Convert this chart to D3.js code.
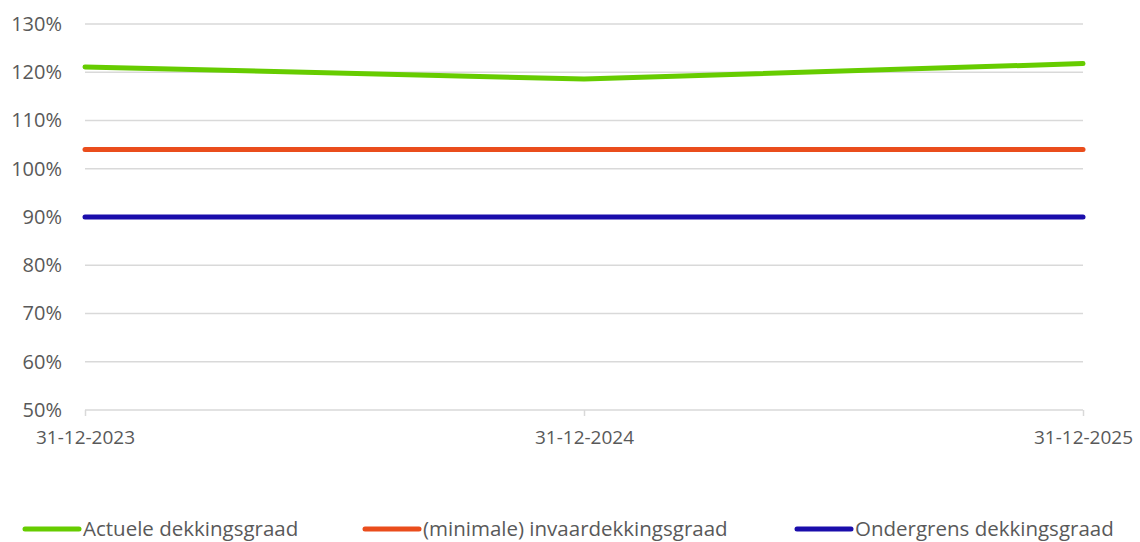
<!DOCTYPE html>
<html>
<head>
<meta charset="utf-8">
<script src="https://cdn.jsdelivr.net/npm/d3@7"></script>
<style>
  html, body { margin: 0; padding: 0; background: #fff; }
  svg { display: block; }
  svg text { font-family: "Open Sans", "Noto Sans", sans-serif; }
</style>
</head>
<body>
<svg id="chart" width="1140" height="542"></svg>
<script>
// Dates on the x axis
const dates = ["31-12-2023", "31-12-2024", "31-12-2025"];
// Coverage ratios in percent
const actueel = [121.1, 118.6, 121.8];
const invaar = [104, 104, 104];
const ondergrens = [90, 90, 90];
// Y axis ticks
const yTicks = [50, 60, 70, 80, 90, 100, 110, 120, 130];

const seriesNames = ["Actuele dekkingsgraad", "(minimale) invaardekkingsgraad", "Ondergrens dekkingsgraad"];
const seriesColors = ["#66cc00", "#ea4d1c", "#1a0dab"];
const seriesData = [actueel, invaar, ondergrens];

const FONT = '"Open Sans", "Noto Sans", sans-serif';
const svg = d3.select("#chart");
const margin = { left: 85, right: 57, top: 24, bottom: 132 };
const W = 1140, H = 542;

const x = d3.scalePoint().domain(dates).range([margin.left, W - margin.right]);
const y = d3.scaleLinear().domain([50, 130]).range([H - margin.bottom, margin.top]);

// Horizontal gridlines
svg.append("g")
  .selectAll("line")
  .data(yTicks.filter(d => d !== 50))
  .join("line")
  .attr("x1", margin.left).attr("x2", W - margin.right)
  .attr("y1", d => y(d)).attr("y2", d => y(d))
  .attr("stroke", "#d9d9d9").attr("stroke-width", 1.5);

// Y axis labels
const yAxis = d3.axisLeft(y).tickValues(yTicks).tickFormat(d => d + "%").tickSize(0).tickPadding(23);
const gy = svg.append("g").attr("transform", `translate(${margin.left},0)`).call(yAxis)
  .attr("font-family", FONT);
gy.select(".domain").remove();
gy.selectAll("text").attr("font-size", 20).attr("fill", "#595959");

// X axis
const xAxis = d3.axisBottom(x).tickSize(6).tickPadding(15);
const gx = svg.append("g").attr("transform", `translate(0,${y(50)})`).call(xAxis)
  .attr("font-family", FONT);
gx.select(".domain").attr("stroke", "#d9d9d9").attr("stroke-width", 1.5)
  .attr("d", `M${margin.left},0H${W - margin.right}`);
gx.selectAll(".tick line").attr("stroke", "#d9d9d9").attr("stroke-width", 1.5);
gx.selectAll("text").attr("font-size", 19).attr("fill", "#595959");

// Series lines
const line = d3.line().x((d, i) => x(dates[i])).y(d => y(d));
svg.append("g")
  .selectAll("path")
  .data(seriesData)
  .join("path")
  .attr("d", d => line(d))
  .attr("fill", "none")
  .attr("stroke", (d, i) => seriesColors[i])
  .attr("stroke-width", 5)
  .attr("stroke-linecap", "round")
  .attr("stroke-linejoin", "round");

// Legend
const legendX = [25, 365, 797];
const legendY = 529;
const lg = svg.append("g").selectAll("g").data(seriesNames).join("g")
  .attr("transform", (d, i) => `translate(${legendX[i]},${legendY})`);
lg.append("line")
  .attr("x1", 0).attr("x2", 54).attr("y1", 0).attr("y2", 0)
  .attr("stroke", (d, i) => seriesColors[i])
  .attr("stroke-width", 5).attr("stroke-linecap", "round");
lg.append("text")
  .attr("x", 58).attr("y", 0).attr("dy", "0.35em")
  .attr("font-size", 20.5).attr("fill", "#595959")
  .text(d => d);
</script>
</body>
</html>
